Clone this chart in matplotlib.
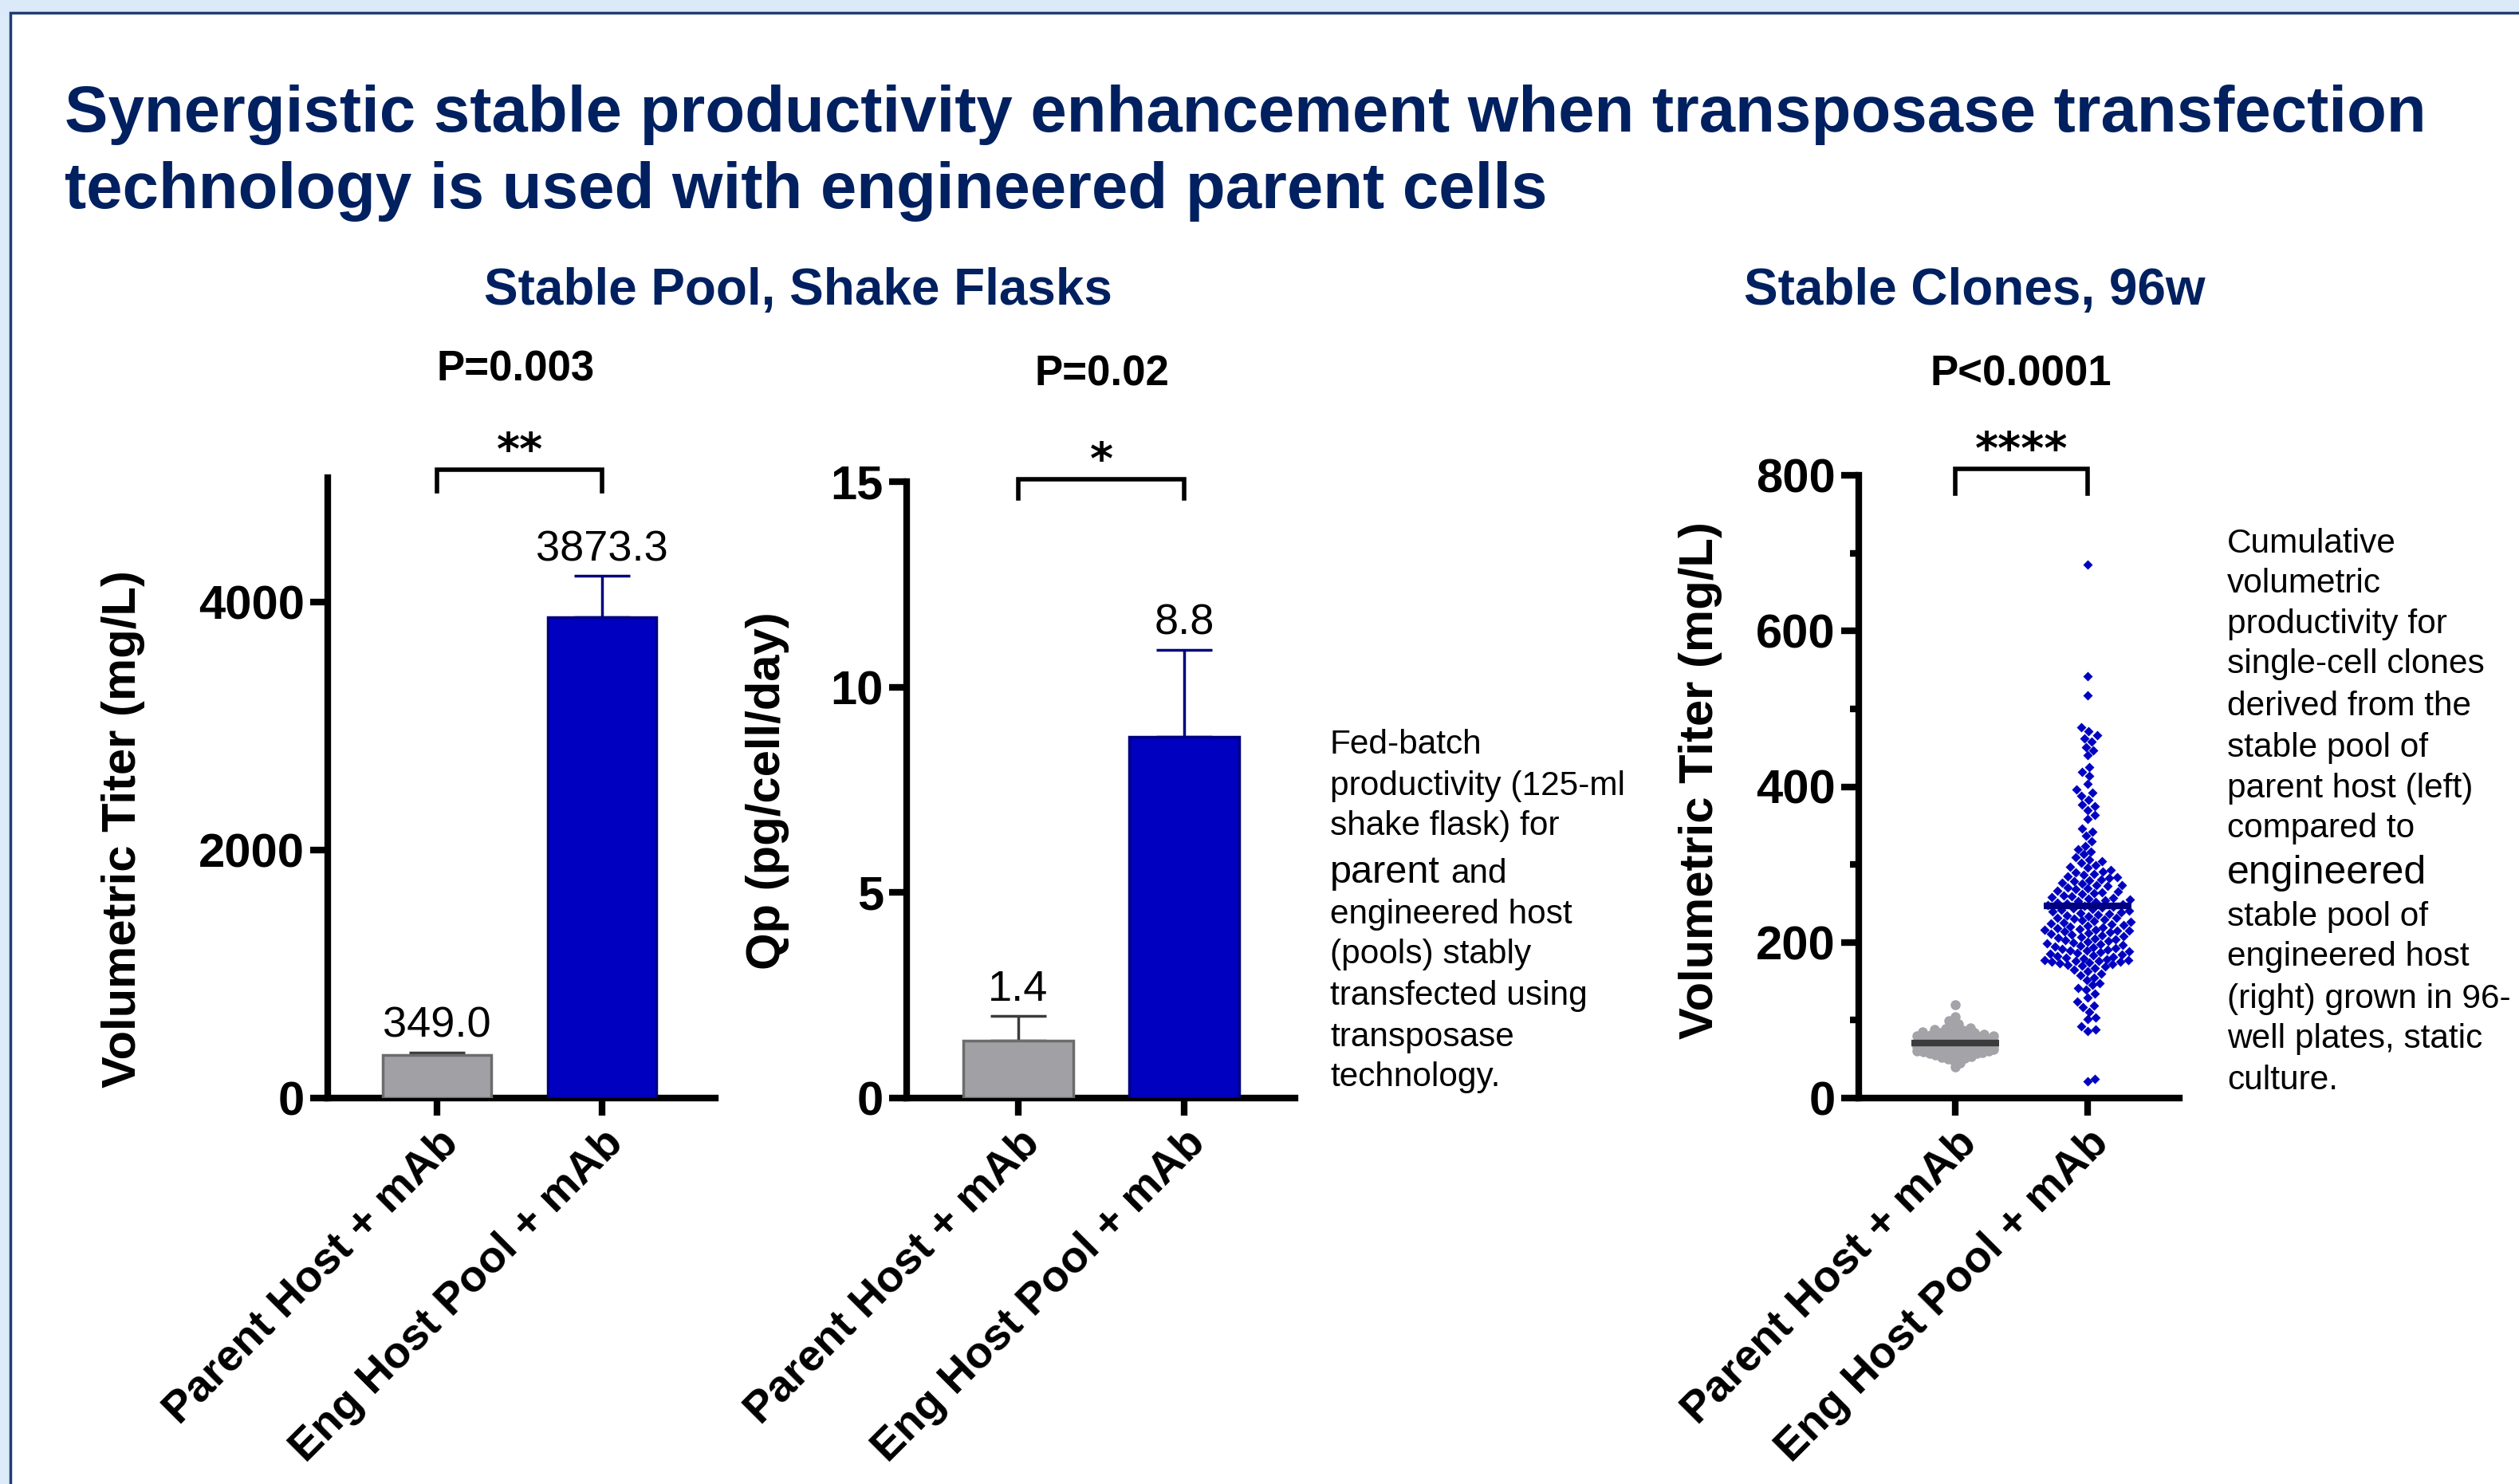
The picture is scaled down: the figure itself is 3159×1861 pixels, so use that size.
import numpy as np
import matplotlib
matplotlib.use('Agg')
import matplotlib.pyplot as plt
from matplotlib.patches import Rectangle

plt.rcParams['font.family'] = ['Liberation Sans', 'DejaVu Sans']

W, H = 3159, 1861
NAVY = '#002060'
GRAY = '#a0a0a5'
GRAY_EDGE = '#6c6c6c'
GRAY_DARK = '#3c3c3c'
BLUE = '#0000c0'
BLUE_EDGE = '#000080'

# ---- data ----
categories = ['Parent Host + mAb', 'Eng Host Pool + mAb']

titer_mean = [349.0, 3873.3]
titer_err = [16, 333]

qp_mean = [1.4, 8.8]
qp_err = [0.6, 2.1]

clones_parent = [120, 104, 99, 95, 92, 90, 89, 88, 87, 86, 85, 84, 84, 83, 82, 82,
                 81, 80, 80, 79, 79, 78, 78, 77, 77, 76, 76, 75, 75, 75, 74, 74,
                 74, 73, 73, 73, 72, 72, 72, 71, 71, 71, 70, 70, 70, 70, 69, 69,
                 69, 69, 68, 68, 68, 68, 67, 67, 67, 67, 66, 66, 66, 66, 65, 65,
                 65, 65, 64, 64, 64, 63, 63, 63, 62, 62, 62, 61, 61, 61, 60, 60,
                 59, 59, 58, 58, 57, 57, 56, 55, 54, 53, 52, 51, 50, 48, 45, 40]

clones_eng = [685, 542, 517, 476, 471, 466, 462, 458, 451, 447, 440, 425, 419, 414, 404,
              396, 392, 388, 383, 377, 375, 370, 364, 359, 346, 342, 337, 330, 324, 320,
              317, 313, 309, 306, 304, 302,
              299, 297, 296, 293, 291, 290, 288, 287, 285, 284, 283, 281, 280, 279, 277,
              276, 274, 273, 272, 270, 269, 268, 266, 265, 264, 263, 262, 260, 259, 258,
              257, 256, 255, 254, 253, 252, 251, 250,
              249, 248, 247, 246, 245, 244, 243, 242, 241, 240, 239, 238, 237, 236, 235,
              234, 232, 231, 230, 229, 228, 227, 226, 225, 224, 223, 222, 221, 220, 219,
              218, 217, 216, 216, 215, 215, 214, 213, 212, 211, 210, 209, 208, 207, 206,
              205, 204, 203, 202, 201,
              200, 199, 198, 197, 196, 195, 194, 193, 192, 191, 190, 189, 188, 187, 186,
              185, 184, 183, 182, 181, 180, 179, 178, 177, 177, 176, 176, 175, 175, 174,
              173, 172, 171, 170, 169, 167, 165, 163, 160, 158, 155, 152,
              148, 145, 141, 139, 134, 129, 124, 119, 117, 111, 103, 101, 92, 88, 86, 25, 21]

title_lines = ['Synergistic stable productivity enhancement when transposase transfection',
               'technology is used with engineered parent cells']
left_note = ['Fed-batch', 'productivity (125-ml', 'shake flask) for', 'parent and',
             'engineered host', '(pools) stably', 'transfected using', 'transposase',
             'technology.']
right_note = ['Cumulative', 'volumetric', 'productivity for', 'single-cell clones',
              'derived from the', 'stable pool of', 'parent host (left)', 'compared to',
              'engineered', 'stable pool of', 'engineered host', '(right) grown in 96-',
              'well plates, static', 'culture.']


def fx(x):
    return x / W


def fy(y):
    return 1 - y / H


fig = plt.figure(figsize=(W / 100, H / 100), dpi=100, facecolor='#dbe9f9')
fig.add_artist(Rectangle((fx(13), -0.05), 1.1, 1 - 16 / H + 0.05, transform=fig.transFigure,
                         facecolor='white', edgecolor='#1f3c74', lw=2.5, zorder=-1))


def make_axes(left, right, top):
    ax = fig.add_axes([fx(left), fy(1377), (right - left) / W, (1377 - top) / H])
    ax.set_facecolor('none')
    for s in ['top', 'right']:
        ax.spines[s].set_visible(False)
    for s in ['left', 'bottom']:
        ax.spines[s].set_linewidth(6)
    ax.tick_params(length=16, width=6, pad=5)
    ax.tick_params(axis='x', pad=6)
    ax.set_xticks([0, 1])
    ax.set_xticklabels(categories, rotation=45, ha='right', va='top', rotation_mode='anchor',
                       fontsize=40, fontweight='bold')
    return ax


def set_yticks(ax, ticks):
    ax.set_yticks(ticks)
    ax.set_yticklabels([str(t) for t in ticks], fontsize=43, fontweight='bold')


def bars(ax, means, errs, fmt):
    x = np.arange(len(means))
    ax.bar(x, means, width=0.66, color=[GRAY, BLUE], edgecolor=[GRAY_EDGE, BLUE_EDGE],
           linewidth=2.5, zorder=3)
    for i, c in enumerate([GRAY_DARK, BLUE_EDGE]):
        ax.errorbar(x[i], means[i], yerr=[[0], [errs[i]]], color=c, lw=2.5, capsize=25,
                    capthick=2.5, zorder=2)
        ax.annotate(fmt.format(means[i]), (x[i], means[i] + errs[i]), xytext=(0, 24),
                    textcoords='offset points', ha='center', va='center', fontsize=39)


def bracket(ax, ytop, ybot, stars):
    ax.plot([0, 0, 1, 1], [ybot, ytop, ytop, ybot], color='black', lw=4, clip_on=False,
            solid_joinstyle='miter')
    ax.annotate(stars, (0.5, ytop), xytext=(0, 5), textcoords='offset points', ha='center',
                va='baseline', fontsize=40, fontweight='bold', family='DejaVu Sans',
                annotation_clip=False)


def swarm_x(ax, center, values, size_px, half_px):
    vals = np.asarray(values, float)
    pts = ax.transData.transform(np.column_stack([np.full(len(vals), center), vals]))
    cx = pts[0, 0]
    xs = np.zeros(len(vals))
    placed = []
    for i in np.argsort(vals):
        y = pts[i, 1]
        cands = [0.0]
        for px, py in placed:
            dy = abs(py - y)
            if dy < size_px:
                dx = np.sqrt(size_px ** 2 - dy ** 2)
                cands += [px + dx, px - dx]
        cands.sort(key=abs)
        best = None
        for c in cands:
            if abs(c) > half_px:
                continue
            if all((c - px) ** 2 + (y - py) ** 2 >= size_px ** 2 - 1e-6 for px, py in placed):
                best = c
                break
        if best is None:
            grid = np.linspace(-half_px, half_px, 41)
            best = max(grid, key=lambda c: min(np.hypot(c - px, y - py) for px, py in placed))
        placed.append((best, y))
        xs[i] = best
    back = ax.transData.inverted().transform(np.column_stack([cx + xs, pts[:, 1]]))
    return back[:, 0]


# ---- panel 1: titer bars ----
ax1 = make_axes(411, 897, 599)
ax1.set_xlim(-0.662, 1.686)
ax1.set_ylim(0, 5000)
set_yticks(ax1, [0, 2000, 4000])
bars(ax1, titer_mean, titer_err, '{:.1f}')
bracket(ax1, 5065, 4890, '**')

# ---- panel 2: Qp bars ----
ax2 = make_axes(1137, 1624, 604)
ax2.set_xlim(-0.673, 1.668)
ax2.set_ylim(0, 15)
set_yticks(ax2, [0, 5, 10, 15])
bars(ax2, qp_mean, qp_err, '{:.1f}')
bracket(ax2, 15.06, 14.6, '*')

# ---- panel 3: clones scatter ----
ax3 = make_axes(2331, 2733, 596)
ax3.set_xlim(-0.729, 1.693)
ax3.set_ylim(0, 800)
set_yticks(ax3, [0, 200, 400, 600, 800])
ax3.set_yticks([100, 300, 500, 700], minor=True)
ax3.tick_params(which='minor', length=8, width=6)

xg = swarm_x(ax3, 0, clones_parent, 8, 48)
ax3.plot(xg, clones_parent, 'o', ms=9, color='#a3a3a8', mec='none', zorder=3, clip_on=False)
xb = swarm_x(ax3, 1, clones_eng, 10, 54)
ax3.plot(xb, clones_eng, 'D', ms=5.8, color=BLUE, mec='none', zorder=3, clip_on=False)
ax3.hlines(np.mean(clones_parent), -0.33, 0.33, color=GRAY_DARK, lw=6, zorder=4)
ax3.hlines(np.mean(clones_eng), 0.67, 1.33, color=BLUE_EDGE, lw=6, zorder=4)
bracket(ax3, 808, 776, '****')

# ---- y labels ----
fig.text(fx(155), fy(1040), 'Volumetric Titer (mg/L)', rotation=90, ha='center', va='center',
         fontsize=43, fontweight='bold')
fig.text(fx(963), fy(992), 'Qp (pg/cell/day)', rotation=90, ha='center', va='center',
         fontsize=43, fontweight='bold')
fig.text(fx(2132), fy(979), 'Volumetric Titer (mg/L)', rotation=90, ha='center', va='center',
         fontsize=43, fontweight='bold')

# ---- titles ----
fig.text(fx(81), fy(165), title_lines[0], fontsize=58.8, fontweight='bold', color=NAVY,
         va='baseline')
fig.text(fx(81), fy(261), title_lines[1], fontsize=58.8, fontweight='bold', color=NAVY,
         va='baseline')
fig.text(fx(1001), fy(365), 'Stable Pool, Shake Flasks', fontsize=46, fontweight='bold',
         color=NAVY, ha='center', va='center')
fig.text(fx(2476), fy(365), 'Stable Clones, 96w', fontsize=46, fontweight='bold',
         color=NAVY, ha='center', va='center')
fig.text(fx(647), fy(463), 'P=0.003', fontsize=38, fontweight='bold', ha='center', va='center')
fig.text(fx(1382), fy(469), 'P=0.02', fontsize=38, fontweight='bold', ha='center', va='center')
fig.text(fx(2534), fy(469), 'P<0.0001', fontsize=38, fontweight='bold', ha='center', va='center')

# ---- side notes ----
renderer = fig.canvas.get_renderer()
left_base = [945, 997, 1047, 1107, 1158, 1208, 1260, 1312, 1362]
for line, yb in zip(left_note, left_base):
    if line.startswith('parent '):
        first, rest = line.split(' ', 1)
        t = fig.text(fx(1668), fy(yb), first, fontsize=35, va='baseline')
        x1 = t.get_window_extent(renderer).x1
        fig.text((x1 + 13) / W, fy(yb), rest, fontsize=30.5, va='baseline')
    else:
        fig.text(fx(1668), fy(yb), line, fontsize=30.5, va='baseline')

right_base = [693, 743, 794, 844, 897, 949, 1000, 1050, 1108, 1161, 1211, 1264, 1314, 1366]
for i, (line, yb) in enumerate(zip(right_note, right_base)):
    size = 36 if i == 8 else 30.5
    fig.text(fx(2793), fy(yb), line, fontsize=size, va='baseline')

fig.savefig('out.png', dpi=100, facecolor=fig.get_facecolor())
